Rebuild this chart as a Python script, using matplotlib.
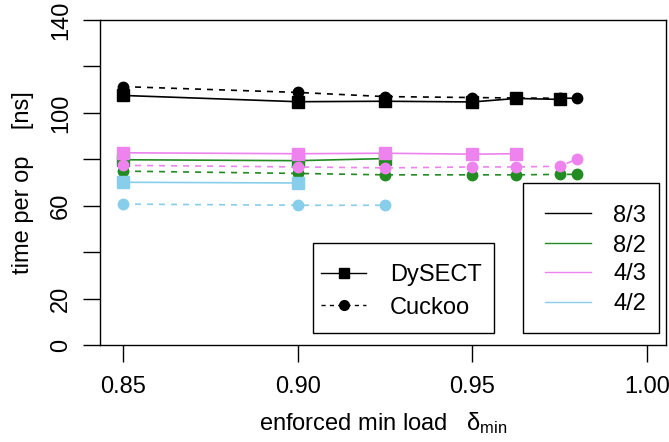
import matplotlib
matplotlib.use("Agg")
import matplotlib.pyplot as plt
import matplotlib.patches as patches
from matplotlib.lines import Line2D

plt.rcParams['font.family'] = ['Liberation Sans', 'DejaVu Sans']
plt.rcParams['mathtext.fontset'] = 'custom'
plt.rcParams['mathtext.rm'] = 'Liberation Sans'
plt.rcParams['mathtext.it'] = 'Liberation Sans'

W, H = 669, 442

configs = ["8/3", "8/2", "4/3", "4/2"]
colors = ["black", "forestgreen", "violet", "skyblue"]

# DySECT (solid, squares)
dysect_x = {
    "8/3": [0.85, 0.90, 0.925, 0.95, 0.9625, 0.975],
    "8/2": [0.85, 0.90, 0.925],
    "4/3": [0.85, 0.90, 0.925, 0.95, 0.9625],
    "4/2": [0.85, 0.90],
}
dysect_y = {
    "8/3": [107.5, 104.8, 105.0, 104.7, 106.2, 105.8],
    "8/2": [79.8, 79.4, 80.3],
    "4/3": [82.8, 82.4, 82.6, 82.2, 82.4],
    "4/2": [70.1, 69.8],
}

# Cuckoo (dashed, circles)
cuckoo_x = {
    "8/3": [0.85, 0.90, 0.925, 0.95, 0.9625, 0.975, 0.98],
    "8/2": [0.85, 0.90, 0.925, 0.95, 0.9625, 0.975, 0.98],
    "4/3": [0.85, 0.90, 0.925, 0.95, 0.9625, 0.975, 0.98],
    "4/2": [0.85, 0.90, 0.925],
}
cuckoo_y = {
    "8/3": [111.3, 108.8, 107.0, 106.6, 106.4, 106.3, 106.3],
    "8/2": [74.9, 73.9, 73.3, 73.3, 73.3, 73.5, 73.5],
    "4/3": [77.4, 76.7, 76.3, 76.7, 76.7, 77.0, 80.1],
    "4/2": [60.7, 60.2, 60.2],
}

xticks = [0.85, 0.90, 0.95, 1.00]
yticks = [0, 20, 40, 60, 80, 100, 120, 140]
ytick_labels = ["0", "20", "", "60", "", "100", "", "140"]


def fx(px):
    return px / W


def fy(py):
    return 1 - py / H


fig = plt.figure(figsize=(W / 100, H / 100), dpi=100)
ax = fig.add_axes([fx(100), fy(345), 566 / W, 325 / H])

for cfg, col in zip(configs, colors):
    ax.plot(cuckoo_x[cfg], cuckoo_y[cfg], color=col, lw=1.2, dashes=(3.6, 3.6),
            marker="o", ms=7.5, mec=col, mfc=col)
    ax.plot(dysect_x[cfg], dysect_y[cfg], color=col, lw=1.2, ls="-",
            marker="s", ms=8, mec=col, mfc=col)

ax.set_xlim(0.8434, 1.0054)
ax.set_ylim(0, 140)
ax.set_xticks(xticks)
ax.set_xticklabels([f"{t:.2f}" for t in xticks])
ax.set_yticks(yticks)
ax.set_yticklabels(ytick_labels, rotation=90, va="center")
ax.tick_params(axis="both", direction="out", length=12, width=1.0,
               labelsize=17, color="black")
ax.tick_params(axis="x", pad=10)
ax.tick_params(axis="y", pad=8)
for s in ax.spines.values():
    s.set_linewidth(1.0)

ax.set_xlabel(r"enforced min load   $\mathrm{\delta}_{\mathrm{min}}$",
              fontsize=17, labelpad=9)
ax.set_ylabel("time per op    [ns]", fontsize=17, labelpad=12)

tf = fig.transFigure


def legend_box(x0, x1, y0, y1):
    ax.add_patch(patches.Rectangle((fx(x0), fy(y1)), fx(x1) - fx(x0), fy(y0) - fy(y1),
                                   transform=tf, facecolor="white", edgecolor="black",
                                   lw=1.0, zorder=10, clip_on=False))


def legend_row(y, x0, x1, tx, label, color, dashes=None, marker=None, ms=7):
    ln = Line2D([fx(x0), fx(x1)], [fy(y), fy(y)], transform=tf, color=color, lw=1.0,
                zorder=11)
    if dashes:
        ln.set_dashes(dashes)
    ax.add_artist(ln)
    if marker:
        ax.add_artist(Line2D([fx((x0 + x1) / 2)], [fy(y)], transform=tf, color=color,
                             marker=marker, ms=ms, ls="none", zorder=12))
    fig.text(fx(tx), fy(y), label, fontsize=17, ha="left", va="center_baseline",
             zorder=12)


# legend: hashing scheme
legend_box(313, 494, 243, 333)
legend_row(273, 321, 366, 390, "DySECT", "black", marker="s", ms=7)
legend_row(305, 321, 366, 390, "Cuckoo", "black", dashes=(3, 3), marker="o", ms=7)

# legend: configuration
legend_box(523, 659, 183, 333)
for y, cfg, col in zip([213, 243, 272, 302], configs, colors):
    legend_row(y, 545, 591, 613, cfg, col)

fig.savefig("out.png", dpi=100)
